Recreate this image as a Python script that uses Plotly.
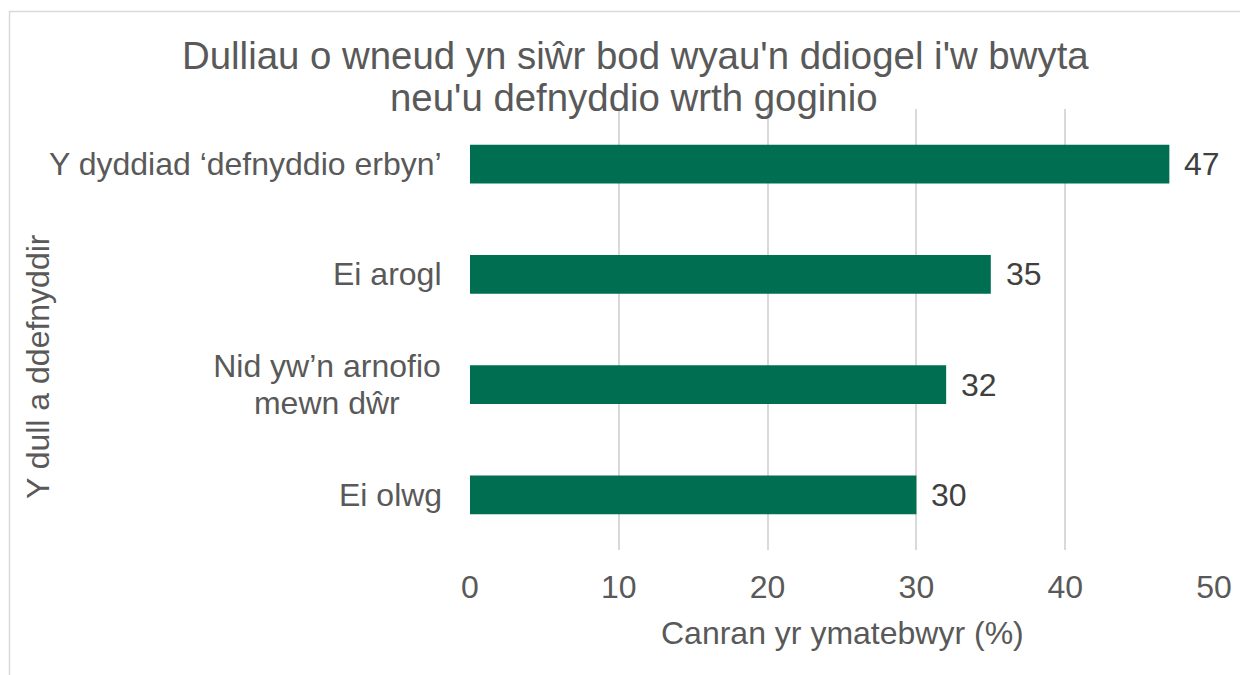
import plotly.graph_objects as go

categories = ["Y dyddiad ‘defnyddio erbyn’", "Ei arogl", "Nid yw’n arnofio<br>mewn dŵr", "Ei olwg"]
values = [47, 35, 32, 30]
x_ticks = [0, 10, 20, 30, 40, 50]
title_lines = ["Dulliau o wneud yn siŵr bod wyau'n ddiogel i'w bwyta", "neu'u defnyddio wrth goginio"]
x_title = "Canran yr ymatebwyr (%)"
y_title = "Y dull a ddefnyddir"

FONT = "Liberation Sans, Arial, sans-serif"
GREY = "#595959"
BAR = "#006E51"

OFF = 8  # default page body margin
W, H = 1248 - OFF, 675 - OFF
L, R, T, B = 470, 1214, 109, 550  # plot area in screen coords
pw, ph = R - L, B - T
LINE_GAP = 37
MULTI_BOX = 230  # text box width used to centre wrapped category labels

def px(x):
    return (x - L) / pw

def py(y):
    return (B - y) / ph

fig = go.Figure(go.Bar(
    x=values, y=categories, orientation="h",
    marker=dict(color=BAR, line=dict(width=0)),
    width=0.35, hoverinfo="skip",
))

annotations = []
for c, v in zip(categories, values):
    annotations.append(dict(x=v, y=c, xref="x", yref="y", text=str(v), showarrow=False,
                            xanchor="left", xshift=13, font=dict(family=FONT, size=32, color="#404040")))
    lines = c.split("<br>")
    n = len(lines)
    for i, ln in enumerate(lines):
        shift = ((n - 1) / 2 - i) * LINE_GAP
        a = dict(x=0, y=c, xref="x", yref="y", text=ln, showarrow=False,
                 xanchor="right", xshift=-26, yshift=shift, align="center",
                 font=dict(family=FONT, size=32, color=GREY))
        if n > 1:
            a["width"] = MULTI_BOX
        annotations.append(a)

annotations.append(dict(x=px(635), y=py(55), xref="paper", yref="paper", text=title_lines[0],
                        showarrow=False, xanchor="center", yanchor="middle",
                        font=dict(family=FONT, size=38.4, color=GREY)))
annotations.append(dict(x=px(634), y=py(98), xref="paper", yref="paper", text=title_lines[1],
                        showarrow=False, xanchor="center", yanchor="middle",
                        font=dict(family=FONT, size=38.4, color=GREY)))
annotations.append(dict(x=px(842), y=py(633), xref="paper", yref="paper", text=x_title,
                        showarrow=False, xanchor="center", yanchor="middle",
                        font=dict(family=FONT, size=32, color=GREY)))
annotations.append(dict(x=px(38), y=py(366), xref="paper", yref="paper", text=y_title,
                        showarrow=False, xanchor="center", yanchor="middle", textangle=-90,
                        font=dict(family=FONT, size=32, color=GREY)))

fig.update_layout(
    width=W, height=H,
    margin=dict(l=L - OFF, r=1248 - R, t=T - OFF, b=675 - B, pad=0),
    paper_bgcolor="white", plot_bgcolor="white",
    showlegend=False,
    annotations=annotations,
    shapes=[dict(type="rect", xref="paper", yref="paper",
                 x0=px(9.5), x1=px(1300), y0=py(720), y1=py(11.5),
                 line=dict(color="#D9D9D9", width=1.5), fillcolor="rgba(0,0,0,0)", layer="below")],
    xaxis=dict(range=[0, 50], tickvals=x_ticks, showgrid=True, gridcolor="#D9D9D9", gridwidth=1.5,
               zeroline=False, showline=False, ticks="", ticklabelstandoff=15,
               tickfont=dict(family=FONT, size=32, color=GREY), fixedrange=True),
    yaxis=dict(categoryorder="array", categoryarray=categories[::-1], showticklabels=False,
               showgrid=False, zeroline=False, showline=False, ticks="", fixedrange=True),
)

fig.write_html("out.html", config={"displayModeBar": False})
